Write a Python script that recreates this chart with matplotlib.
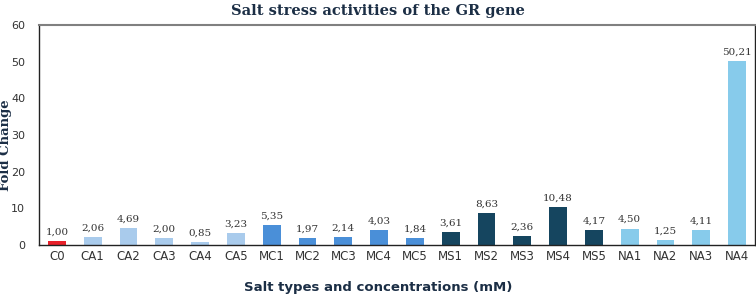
import matplotlib.pyplot as plt

categories = ["C0", "CA1", "CA2", "CA3", "CA4", "CA5", "MC1", "MC2", "MC3", "MC4",
              "MC5", "MS1", "MS2", "MS3", "MS4", "MS5", "NA1", "NA2", "NA3", "NA4"]
fold_change = [1.00, 2.06, 4.69, 2.00, 0.85, 3.23, 5.35, 1.97, 2.14, 4.03,
               1.84, 3.61, 8.63, 2.36, 10.48, 4.17, 4.50, 1.25, 4.11, 50.21]
groups = ["C", "CA", "CA", "CA", "CA", "CA", "MC", "MC", "MC", "MC",
          "MC", "MS", "MS", "MS", "MS", "MS", "NA", "NA", "NA", "NA"]

group_colors = {"C": "#e8202a", "CA": "#a9cbec", "MC": "#4a8fd8",
                "MS": "#15455f", "NA": "#87cbeb"}
colors = [group_colors[g] for g in groups]

fig = plt.figure(figsize=(7.56, 2.97), dpi=100)
ax = fig.add_axes([39 / 756, 1 - 245 / 297, 716 / 756, 220 / 297])

x = list(range(len(categories)))
bars = ax.bar(x, fold_change, width=0.5, color=colors)

# value labels with comma decimals
for xi, v in zip(x, fold_change):
    ax.text(xi, v + 1.2, f"{v:.2f}".replace(".", ","), ha="center", va="bottom",
            fontsize=7.5, family="DejaVu Serif", color="#333333")

ax.set_xlim(-0.5, len(categories) - 0.5)
ax.set_ylim(0, 60)
ax.set_yticks(range(0, 61, 10))
ax.set_xticks(x)
ax.set_xticklabels(categories)
ax.tick_params(axis="both", length=0, labelsize=8.5, colors="#333333")
ax.tick_params(axis="y", pad=10, labelsize=8)

for side in ["left", "right", "bottom"]:
    ax.spines[side].set_color("#222222")
    ax.spines[side].set_linewidth(1.0)
ax.spines["top"].set_color("#808080")
ax.spines["top"].set_linewidth(1.5)

fig.text(6 / 756, 1 - 145 / 297, "Fold Change", rotation=90, ha="center", va="center",
         family="DejaVu Serif", fontweight="bold", fontsize=9.5, color="#1b2e45")
fig.text(0.5, 1 - 288 / 297, "Salt types and concentrations (mM)", ha="center",
         va="center", fontweight="bold", fontsize=9.5, color="#1b2e45")
fig.text(0.5, 0.985, "Salt stress activities of the GR gene", ha="center", va="top",
         family="DejaVu Serif", fontweight="bold", fontsize=10.5, color="#1b2e45")

fig.savefig("out.png", dpi=100)
